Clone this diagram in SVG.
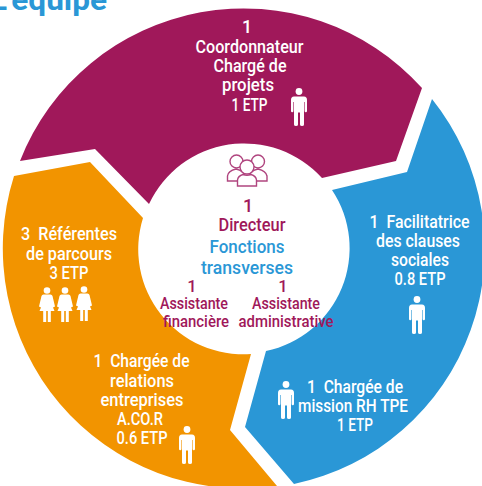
<svg xmlns="http://www.w3.org/2000/svg" width="482" height="486" viewBox="0 0 482 486">
<style>
text{font-family:"Roboto","Liberation Sans",sans-serif;text-anchor:middle;font-size:17.8px;font-weight:500}
.w{fill:#fff}.p{fill:#a0185a}.b{fill:#2a97d6}
.s text{font-size:16.5px}
.m text{font-size:18px}
</style>
<defs>
<g id="man" fill="#fff"><circle cx="0" cy="3.5" r="3.4"/><path d="M-5 8.5H5Q8 8.5 8 12V23Q8 24.300 6.800 24.300Q5.600 24.300 5.600 23V14H5V36.500Q5 38 3 38Q1 38 1 36.500V24.500H-1V36.500Q-1 38-3 38Q-5 38-5 36.500V14H-5.600V23Q-5.600 24.300-6.800 24.300Q-8 24.300-8 23V12Q-8 8.500-5 8.500Z"/></g>
<g id="woman" fill="#fff"><circle cx="0" cy="3.5" r="3.3"/><path d="M-3.500 7.500H3.500Q5 7.500 5.500 9L8 19.500L6 20.500L7.500 24H3.800V35H.8V24H-.8V35H-3.800V24H-7.500L-6 20.500L-8 19.500L-5.500 9Q-5 7.500-3.500 7.500Z"/></g>
</defs>
<rect width="482" height="486" fill="#fff"/>
<text x="48.500" y="10" class="b" style="font-size:29px;font-weight:700" textLength="117" lengthAdjust="spacingAndGlyphs">L'équipe</text>
<g id="coordonnateur">
<path fill="#a0185a" d="M20 161A240 240 0 0 1 422 88L396 161L322 178A105 105 0 0 0 149 204L95 149Z"/>
<g class="w">
<text x="247" y="33">1</text>
<text x="249.500" y="53" textLength="108" lengthAdjust="spacingAndGlyphs">Coordonnateur</text>
<text x="250" y="72" textLength="73" lengthAdjust="spacingAndGlyphs">Chargé de</text>
<text x="248" y="91" textLength="52" lengthAdjust="spacingAndGlyphs">projets</text>
<text x="249.500" y="111" textLength="36" lengthAdjust="spacingAndGlyphs">1 ETP</text>
</g>
<use href="#man" x="299" y="88"/>
</g>
<g id="facilitatrice">
<path fill="#2a97d6" d="M432 99A240 240 0 0 1 294 484L245 427L266 351A105 105 0 0 0 332 190L407 172Z"/>
<g class="w">
<text x="419.500" y="228" textLength="100" lengthAdjust="spacingAndGlyphs">1&#160; Facilitatrice</text>
<text x="418" y="247" textLength="84" lengthAdjust="spacingAndGlyphs">des clauses</text>
<text x="420" y="266" textLength="58" lengthAdjust="spacingAndGlyphs">sociales</text>
<text x="420" y="285" textLength="51" lengthAdjust="spacingAndGlyphs">0.8 ETP</text>
</g>
<use href="#man" x="417" y="296"/>
</g>
<g id="mission">
<text x="355" y="393" class="w" textLength="96" lengthAdjust="spacingAndGlyphs">1&#160; Chargée de</text>
<text x="353" y="412" class="w" textLength="110" lengthAdjust="spacingAndGlyphs">mission RH TPE</text>
<text x="355" y="431" class="w" textLength="36" lengthAdjust="spacingAndGlyphs">1 ETP</text>
<use href="#man" x="286" y="381"/>
</g>
<g id="referentes">
<path fill="#f29400" d="M14 176L90 162L143 218A105 105 0 0 0 251 354L230 430L277 486A240 240 0 0 1 14 176Z"/>
<g class="w">
<text x="69" y="240" textLength="96" lengthAdjust="spacingAndGlyphs">3&#160; Référentes</text>
<text x="69" y="260" textLength="86" lengthAdjust="spacingAndGlyphs">de parcours</text>
<text x="69" y="279" textLength="39" lengthAdjust="spacingAndGlyphs">3 ETP</text>
</g>
<use href="#woman" x="47" y="287"/><use href="#woman" x="65" y="287"/><use href="#woman" x="84" y="286"/>
</g>
<g id="relations">
<g class="w">
<text x="141.500" y="367" textLength="96" lengthAdjust="spacingAndGlyphs">1&#160; Chargée de</text>
<text x="142" y="387" textLength="64" lengthAdjust="spacingAndGlyphs">relations</text>
<text x="142" y="406" textLength="83" lengthAdjust="spacingAndGlyphs">entreprises</text>
<text x="140" y="425" textLength="46" lengthAdjust="spacingAndGlyphs">A.CO.R</text>
<text x="142" y="444" textLength="51" lengthAdjust="spacingAndGlyphs">0.6 ETP</text>
</g>
<use href="#man" x="187" y="426"/>
</g>
<g id="direction">
<g fill="#fff" stroke="#b0457f" stroke-width="1.4">
<circle cx="236.500" cy="161.500" r="6.500"/><circle cx="258" cy="161.500" r="6.500"/>
<path d="M227.500 181V176Q228 171 236 169Q244 171 245 176V181ZM249 181V176Q250 171 258 169Q266 171 267 176V181Z"/>
<circle cx="247" cy="167" r="7"/>
<path d="M237.500 186V180Q238 176 243 174.500Q247 176 251 174.500Q256 176 256.500 180V186Z"/>
</g>
<g class="p m">
<text x="248" y="212">1</text>
<text x="252" y="231" textLength="67" lengthAdjust="spacingAndGlyphs">Directeur</text>
</g>
<g class="b m">
<text x="247" y="253" textLength="75" lengthAdjust="spacingAndGlyphs">Fonctions</text>
<text x="247" y="274" textLength="92" lengthAdjust="spacingAndGlyphs">transverses</text>
</g>
<g class="p s">
<text x="192" y="292">1</text>
<text x="194" y="309" textLength="68" lengthAdjust="spacingAndGlyphs">Assistante</text>
<text x="196" y="327" textLength="66" lengthAdjust="spacingAndGlyphs">financière</text>
<text x="283" y="292">1</text>
<text x="286" y="309" textLength="68" lengthAdjust="spacingAndGlyphs">Assistante</text>
<text x="286" y="327" textLength="95" lengthAdjust="spacingAndGlyphs">administrative</text>
</g>
</g>
</svg>
